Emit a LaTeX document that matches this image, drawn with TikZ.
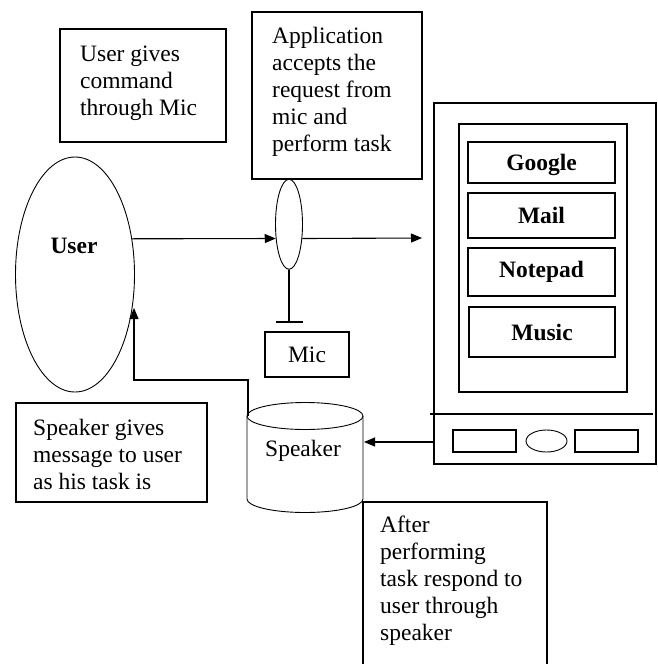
\documentclass[tikz,border=0pt]{standalone}
\usepackage{fontspec}
\setmainfont{Liberation Serif}
\usetikzlibrary{arrows.meta,shapes.geometric}
\begin{document}
\begin{tikzpicture}[x=1pt,y=-1pt,
  ln/.style={line width=1.1pt},
  box/.style={draw,line width=1.1pt,inner sep=0pt},
  txt/.style={anchor=base west,align=left,inner sep=0pt,font=\fontsize{23.5}{27}\selectfont},
  btn/.style={box,font=\fontsize{23.5}{27}\selectfont\bfseries},
  oval/.style={draw,ellipse,line width=0.9pt,inner sep=0pt},
  arr/.style={ln,-{Triangle[length=11pt,width=9pt]}}]
\useasboundingbox (0,0) rectangle (657,664);

% text boxes (base anchor = baseline of last line)
\node[box,minimum width=166pt,minimum height=113pt] (b1) at (143,85.5) {};
\node[txt] (t1) at (80,115) {User gives\\command\\through Mic};
\node[box,minimum width=170pt,minimum height=167pt] (b2) at (337,95.5) {};
\node[txt] (t2) at (272,151) {Application\\accepts the\\request from\\mic and\\perform task};
\node[box,minimum width=191pt,minimum height=99pt] (b3) at (111.5,452.5) {};
\node[txt] (t3) at (33,489) {Speaker gives\\message to user\\as his task is};
\draw[ln] (363,668) -- (363,502) -- (547,502) -- (547,668);
\node[txt] (t4) at (380,640) {After\\performing\\task respond to\\user through\\speaker};

% user
\node[oval,minimum width=119pt,minimum height=235pt] (user) at (75,274.5) {};
\node[anchor=base,inner sep=0pt,font=\fontsize{23.5}{27}\selectfont\bfseries] (ut) at (74,253) {User};

% mic
\node[oval,minimum width=27pt,minimum height=90pt] (mic) at (289,224.3) {};
\coordinate (stem) at (289,322);
\draw[ln] (mic.south) -- (stem);
\draw[ln] (276,322) -- (303,322);
\node[box,minimum width=84pt,minimum height=45pt,font=\fontsize{23.5}{27}\selectfont] (micbox) at (307,354.5) {Mic};

% phone
\node[box,minimum width=222pt,minimum height=361pt] (phone) at (545,283.5) {};
\node[box,minimum width=168pt,minimum height=268pt] (screen) at (543,258) {};
\node[btn,minimum width=147pt,minimum height=41pt,text depth=0pt] (google) at (541.5,162.5) {Google};
\node[btn,minimum width=147pt,minimum height=45pt] (mail) at (541.5,215.5) {Mail};
\node[btn,minimum width=147pt,minimum height=48pt] (notepad) at (541.5,272) {Notepad};
\node[btn,minimum width=146pt,minimum height=50pt] (music) at (542,332) {Music};
\draw[ln] (430,414) -- (653,414);
\node[box,minimum width=63pt,minimum height=22pt] (k1) at (484.5,441) {};
\node[oval,minimum width=41pt,minimum height=22pt] (k2) at (546.5,441) {};
\node[box,minimum width=63pt,minimum height=22pt] (k3) at (606.5,441) {};

% speaker cylinder
\draw[line width=0.9pt] (247,416) -- (247,499) arc[start angle=180,end angle=360,x radius=58pt,y radius=13.5pt] -- (363,416);
\draw[line width=0.9pt] (305,416) ellipse[x radius=58pt,y radius=13.5pt];
\node[txt] (spk) at (265,456) {Speaker};
\coordinate (spkl) at (248,416);
\coordinate (spkr) at (364,442);

% connectors
\coordinate (out) at (422,238);
\draw[arr] (user.32.5) -- (mic.227.6);
\draw[arr] (mic.-47.6) -- (out);
\draw[arr] (phone.west |- spkr) -- (spkr);
\draw[arr] (spkl) -- (248,380) -- (134,380) -- (134,308);
\end{tikzpicture}
\end{document}
